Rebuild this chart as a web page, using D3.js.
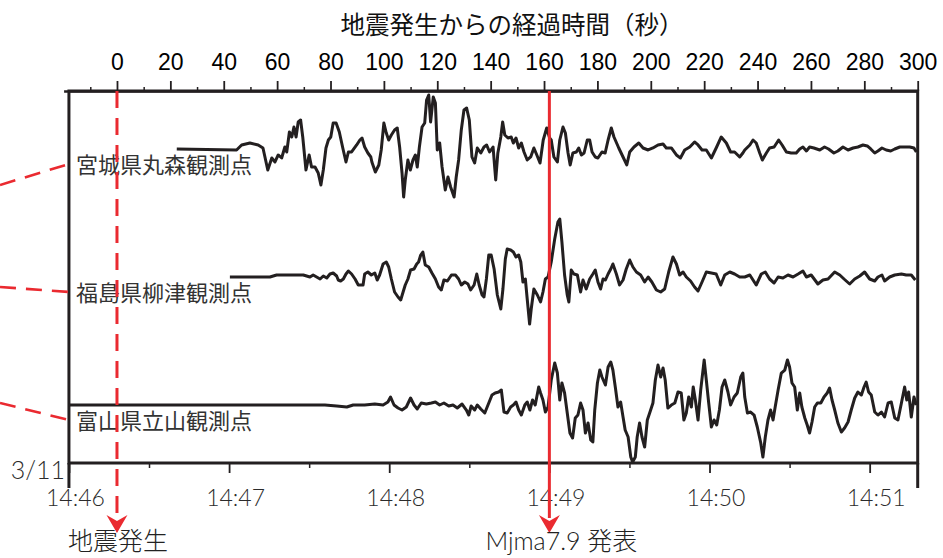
<!DOCTYPE html>
<html>
<head>
<meta charset="utf-8">
<script src="https://cdn.jsdelivr.net/npm/d3@7"></script>
<style>
  body { margin: 0; background: #fff; }
  svg { display: block; }
</style>
</head>
<body>
<div id="chart"></div>
<script>
// seconds after origin time, amplitude (relative)
const miyagi = [[22.4,0],[44.8,-1],[46.7,4],[49.8,6],[52.9,4],[54.7,1],[56.5,-21],[58.0,-9],[59.2,-13],[60.4,-6],[61.7,-9],[62.9,2],[63.6,-3],[64.6,17],[65.5,12],[66.3,22],[67.1,12],[67.9,27],[68.8,29],[69.6,12],[70.8,-21],[72.0,-6],[72.9,-18],[74.2,-18],[75.4,-24],[76.4,-36],[77.3,-21],[78.3,1],[79.2,9],[80.1,12],[81.0,26],[82.1,26],[83.3,17],[84.6,1],[85.8,-13],[86.7,-3],[87.9,-3],[89.8,4],[91.0,9],[91.8,11],[92.8,2],[94.0,-4],[95.1,-8],[95.5,-13],[96.8,-23],[98.1,-16],[99.0,-1],[100.0,26],[100.9,16],[101.8,9],[102.8,14],[104.0,19],[105.0,21],[105.9,2],[106.8,-24],[107.4,-48],[108.0,-31],[109.0,-11],[109.9,-21],[110.9,-11],[111.8,-6],[112.5,-18],[113.3,2],[114.3,22],[115.3,26],[116.0,49],[116.8,54],[117.5,27],[118.5,52],[119.3,46],[120.0,-1],[120.9,6],[121.8,-18],[123.0,-41],[124.0,-28],[125.0,-38],[126.3,-48],[127.1,-28],[128.0,-11],[129.0,19],[130.0,39],[131.0,41],[132.0,29],[133.0,-8],[134.0,-14],[135.0,1],[136.3,-4],[137.5,2],[138.5,4],[139.6,-3],[140.9,2],[141.9,-31],[142.7,-4],[143.8,12],[144.5,27],[145.3,14],[146.5,11],[147.7,12],[148.5,6],[149.5,11],[150.5,1],[151.5,6],[152.5,-3],[153.7,-11],[155.0,-8],[156.2,1],[157.3,-6],[158.5,-14],[159.7,9],[161.0,21],[162.1,11],[162.7,9],[163.7,-8],[165.0,-13],[165.9,9],[167.1,22],[168.0,16],[169.0,-4],[169.8,-16],[170.8,-4],[172.1,-3],[173.0,1],[174.0,-6],[175.0,-4],[176.2,9],[177.1,9],[178.0,-3],[179.2,-8],[180.2,-9],[181.7,-3],[182.9,-4],[184.0,9],[185.2,21],[186.2,12],[188.0,1],[189.6,-8],[191.0,-16],[192.1,-3],[193.7,2],[195.5,6],[197.1,1],[199.0,-1],[200.8,1],[202.7,4],[204.6,5],[205.8,1],[207.7,1],[209.6,-6],[211.1,-9],[212.7,-1],[214.6,2],[216.4,7],[217.7,4],[219.2,-1],[220.8,-1],[222.7,-9],[224.5,1],[226.4,12],[228.3,6],[229.9,-3],[231.4,-3],[233.3,-8],[234.5,-4],[235.2,-1],[237.1,4],[238.3,9],[239.5,6],[240.8,-4],[241.8,-11],[243.3,-4],[244.5,1],[246.2,2],[247.9,9],[249.2,4],[250.8,-3],[252.6,-4],[254.5,-4],[255.8,0],[257.0,2],[258.3,-2],[259.5,2],[261.1,1],[263.3,-1],[265.1,2],[266.6,0],[268.6,-4],[270.1,-2],[272.0,2],[273.9,-1],[275.8,1],[277.6,2],[279.5,4],[281.1,3],[282.4,0],[283.9,-4],[285.1,-2],[286.6,1],[288.2,-1],[289.9,-2],[291.4,0],[293.3,2],[295.1,2],[297.0,2],[298.6,1],[299.5,-3]];

const fukushima = [[42.3,0],[57.3,0],[59.8,2],[67.3,2],[69.8,2],[72.3,0],[73.5,2],[74.8,0],[76.1,-2],[77.3,1],[78.6,-1],[79.8,3],[81.0,4],[82.3,1],[82.9,-3],[83.8,-4],[84.8,-2],[85.8,3],[86.7,6],[87.9,3],[89.2,-2],[90.4,-8],[92.2,-8],[92.8,3],[94.0,5],[95.3,2],[96.6,4],[97.5,-3],[98.4,2],[99.7,13],[100.9,15],[101.8,10],[102.8,-2],[104.0,-15],[105.3,-20],[106.3,-23],[107.2,-15],[108.0,-8],[109.0,-2],[110.0,7],[111.3,8],[112.3,13],[113.0,15],[113.8,22],[114.6,25],[115.5,12],[116.8,10],[118.0,4],[119.3,-2],[120.5,-10],[121.5,-13],[122.5,-3],[123.8,-4],[125.3,2],[126.8,2],[128.0,-2],[129.0,-8],[130.3,-5],[131.5,-7],[132.5,-13],[133.8,-8],[134.8,3],[135.7,-8],[136.8,-18],[137.5,-20],[138.4,-2],[139.3,22],[140.2,22],[141.3,8],[142.5,-18],[143.8,-32],[144.6,-12],[145.5,18],[146.2,28],[147.5,27],[148.5,25],[149.5,20],[150.5,22],[151.3,15],[152.1,-5],[153.0,-2],[153.7,-22],[154.6,-47],[155.2,-32],[156.2,-12],[157.5,-18],[158.7,-25],[159.6,-15],[160.5,-2],[161.5,0],[162.7,15],[164.0,38],[165.2,55],[165.9,58],[166.7,35],[167.7,2],[168.7,-18],[169.3,-25],[170.2,7],[171.2,3],[172.5,2],[173.7,-15],[174.6,-3],[175.8,-12],[177.1,-2],[178.3,3],[179.2,7],[180.2,-5],[181.2,-12],[182.1,-2],[183.0,-3],[184.0,3],[185.0,8],[185.8,13],[187.1,3],[188.3,-8],[189.6,-3],[190.8,8],[192.1,17],[193.3,10],[194.6,5],[196.2,2],[197.7,-5],[199.0,0],[200.4,-5],[202.1,-13],[203.7,-15],[205.2,-12],[206.7,5],[208.3,20],[209.6,13],[210.8,2],[212.1,5],[213.3,0],[214.9,-4],[216.4,-10],[217.7,-14],[219.2,-5],[220.8,5],[222.7,4],[224.5,3],[226.2,-8],[227.7,2],[229.6,5],[231.4,3],[233.3,0],[235.2,0],[237.1,2],[239.5,-8],[241.4,3],[242.9,5],[244.5,-2],[246.2,-6],[247.7,0],[249.5,-1],[251.4,2],[253.3,0],[255.2,3],[257.0,6],[258.3,0],[260.1,2],[262.6,-7],[264.5,-3],[266.4,-2],[268.9,5],[270.8,2],[272.4,-2],[274.5,-7],[276.4,-2],[278.3,1],[280.1,5],[282.0,-2],[283.9,-4],[285.1,0],[286.6,2],[287.6,-4],[289.5,0],[291.4,2],[293.9,3],[295.7,2],[297.6,2],[299.1,-3]];

const toyama = [[-18.0,0],[77.9,0],[82.3,-1],[86.1,-2],[88.5,0],[91.0,0],[92.8,0],[96.6,1],[99.7,0],[101.5,3],[102.5,8],[103.8,0],[105.3,-3],[106.8,-5],[108.4,-2],[110.0,7],[111.3,0],[112.5,-4],[114.0,2],[115.9,1],[117.8,2],[119.3,3],[120.9,0],[122.5,2],[124.3,-1],[125.9,0],[127.5,-3],[129.3,1],[130.9,-5],[131.8,-10],[132.7,-1],[134.0,-5],[135.0,0],[136.3,-4],[137.8,-8],[139.3,2],[140.5,10],[141.7,12],[143.0,13],[144.0,15],[145.0,-7],[146.2,-8],[147.5,-2],[148.5,0],[149.5,3],[150.5,-5],[151.5,-10],[152.8,0],[153.7,3],[154.7,-5],[155.7,5],[156.7,0],[158.0,18],[158.7,12],[159.6,5],[160.5,-7],[161.5,-2],[162.7,25],[164.0,42],[165.0,32],[165.9,5],[166.7,22],[167.7,12],[168.7,-8],[169.7,-28],[170.7,-33],[171.7,-13],[172.7,-10],[173.7,2],[174.6,-5],[175.5,-28],[176.5,-18],[177.5,-35],[178.3,-37],[179.0,-5],[180.0,22],[180.9,35],[181.7,28],[183.0,20],[184.0,38],[185.0,43],[185.8,35],[186.7,18],[187.7,-2],[188.7,3],[189.6,-12],[190.4,-25],[191.5,-32],[192.5,-52],[193.2,-57],[194.2,-52],[194.9,-32],[195.8,-18],[196.7,-32],[197.7,-42],[198.7,-15],[199.7,-7],[200.8,2],[201.7,25],[202.7,40],[203.7,28],[204.6,37],[205.4,25],[206.4,-3],[207.7,0],[209.0,2],[210.2,13],[211.4,12],[212.4,-15],[213.3,-8],[214.2,8],[215.2,-2],[215.9,18],[216.7,5],[217.7,-15],[218.7,15],[220.0,45],[220.8,25],[221.7,2],[222.7,-22],[223.7,-15],[224.7,-20],[225.7,-5],[226.7,18],[227.7,25],[228.9,13],[229.9,0],[231.2,8],[232.4,12],[233.7,28],[234.5,32],[235.2,8],[236.2,-8],[237.4,-7],[238.7,-10],[239.9,-22],[241.2,-38],[242.0,-52],[242.9,-32],[243.9,-15],[244.9,-5],[245.8,-15],[246.6,-2],[247.7,15],[248.9,32],[250.2,35],[251.2,45],[252.0,38],[252.9,22],[253.9,18],[254.9,-5],[255.8,12],[256.6,-2],[257.7,-13],[258.6,-20],[259.5,-28],[260.4,-17],[261.4,-2],[262.4,2],[263.7,2],[264.9,8],[266.1,12],[267.0,17],[267.9,5],[268.9,-5],[270.1,-18],[271.4,-27],[272.6,-23],[273.9,-17],[275.1,-5],[276.4,7],[277.6,13],[278.9,10],[279.9,18],[280.7,23],[281.6,13],[282.6,10],[283.9,-7],[285.1,-10],[286.4,-7],[287.6,-12],[288.9,2],[290.1,3],[291.4,-13],[292.6,-15],[293.9,2],[295.1,18],[295.9,5],[296.6,13],[297.6,-12],[298.6,8],[299.5,0]];

const stations = ["宮城県丸森観測点", "福島県柳津観測点", "富山県立山観測点"];
const traces = [miyagi, fukushima, toyama];
const secTicks = [0, 20, 40, 60, 80, 100, 120, 140, 160, 180, 200, 220, 240, 260, 280, 300];
const events = [
    { t: 0, label: "地震発生", dashed: true },
    { t: 162, label: "Mjma7.9 発表", dashed: false }
];
const origin = new Date(2011, 2, 11, 14, 46, 18);

const width = 943, height = 558;
const red = "#ea2a30", ink = "#231f20";
const plotTop = 91, plotBottom = 463;
const thinFont = "Lato, 'Noto Sans CJK JP', sans-serif";

const svg = d3.select("#chart").append("svg")
    .attr("width", width)
    .attr("height", height);

// seconds scale and clock scale share the same pixels
const x = d3.scaleLinear().domain([-20, 300]).range([63.6, 917.7]);
const xTime = d3.scaleTime()
    .domain([d3.timeSecond.offset(origin, -20), d3.timeSecond.offset(origin, 300)])
    .range(x.range());

const frameLeft = xTime(new Date(2011, 2, 11, 14, 46, 0));
const frameRight = x(300);

const row = d3.scalePoint()
    .domain(stations)
    .range([plotTop, plotBottom])
    .padding(0.453);

const amp = d3.scaleLinear().domain([-60, 60]).range([60, -60]);

// title
svg.append("text")
    .attr("x", x(148))
    .attr("y", 34)
    .attr("text-anchor", "middle")
    .style("font-family", "'Noto Sans CJK JP', sans-serif")
    .style("font-size", "24.5px")
    .attr("fill", "#111")
    .text("地震発生からの経過時間（秒）");

// top axis (seconds)
const topAxis = svg.append("g")
    .attr("transform", `translate(0,${plotTop})`)
    .call(d3.axisTop(x).tickValues(secTicks).tickSize(10).tickSizeOuter(0).tickPadding(11));
topAxis.select(".domain").attr("stroke", ink).attr("stroke-width", 2.6);
topAxis.selectAll(".tick line").attr("stroke", ink).attr("stroke-width", 1.8);
topAxis.selectAll(".tick text")
    .style("font-family", "'Liberation Sans', Arial, sans-serif")
    .style("font-size", "23px")
    .attr("fill", "#000");

const topMinor = svg.append("g")
    .attr("transform", `translate(0,${plotTop})`)
    .call(d3.axisTop(x).tickValues(d3.range(-10, 300, 20)).tickSize(4).tickFormat(""));
topMinor.select(".domain").remove();
topMinor.selectAll(".tick line").attr("stroke", ink).attr("stroke-width", 1.5);

// bottom axis (clock time)
const clockTicks = d3.timeMinute.range(new Date(2011, 2, 11, 14, 46), new Date(2011, 2, 11, 14, 52));
const botAxis = svg.append("g")
    .attr("transform", `translate(0,${plotBottom})`)
    .call(d3.axisBottom(xTime).tickValues(clockTicks).tickSize(10).tickPadding(17)
        .tickFormat(d3.timeFormat("%H:%M")));
botAxis.select(".domain").remove();
botAxis.selectAll(".tick line").attr("stroke", ink).attr("stroke-width", 1.8);
botAxis.selectAll(".tick text")
    .attr("x", 6)
    .style("font-family", thinFont)
    .style("font-size", "23px")
    .style("font-weight", 300)
    .attr("fill", "#2b2b2b");

const halfTicks = clockTicks.map(d => d3.timeSecond.offset(d, 30)).filter(d => xTime(d) < frameRight);
const botMinor = svg.append("g")
    .attr("transform", `translate(0,${plotBottom})`)
    .call(d3.axisBottom(xTime).tickValues(halfTicks).tickSize(5).tickFormat(""));
botMinor.select(".domain").remove();
botMinor.selectAll(".tick line").attr("stroke", ink).attr("stroke-width", 1.5);

svg.append("text")
    .attr("x", 65)
    .attr("y", 479)
    .attr("text-anchor", "end")
    .style("font-family", thinFont)
    .style("font-size", "25px")
    .style("font-weight", 300)
    .attr("fill", "#2b2b2b")
    .text("3/11");

// frame
svg.append("rect")
    .attr("x", frameLeft)
    .attr("y", plotTop)
    .attr("width", frameRight - frameLeft)
    .attr("height", plotBottom - plotTop)
    .attr("fill", "none")
    .attr("stroke", ink)
    .attr("stroke-width", 3);

[frameLeft, frameRight].forEach(px => {
    svg.append("line")
        .attr("x1", px).attr("x2", px)
        .attr("y1", plotBottom).attr("y2", 488)
        .attr("stroke", ink)
        .attr("stroke-width", 3);
});

// station labels and leader lines from the map side
const leaderFrom = [12, -14, -26];
stations.forEach((s, i) => {
    const base = row(s) + 24;
    svg.append("line")
        .attr("x1", 0).attr("y1", base + leaderFrom[i])
        .attr("x2", frameLeft).attr("y2", base - 9)
        .attr("stroke", red)
        .attr("stroke-width", 2.6)
        .attr("stroke-dasharray", "16,10");

    svg.append("text")
        .attr("x", frameLeft + 7)
        .attr("y", base)
        .style("font-family", "'Noto Sans CJK JP', sans-serif")
        .style("font-size", "22px")
        .attr("fill", "#333")
        .text(s);
});

// seismograms
const line = d3.line();
traces.forEach((tr, i) => {
    const y0 = row(stations[i]);
    svg.append("path")
        .datum(tr)
        .attr("fill", "none")
        .attr("stroke", ink)
        .attr("stroke-width", 3)
        .attr("stroke-linejoin", "round")
        .attr("d", line.x(d => x(d[0])).y(d => y0 + amp(d[1])));
});

// event markers
events.forEach(ev => {
    const ex = x(ev.t);
    svg.append("line")
        .attr("x1", ex).attr("x2", ex)
        .attr("y1", plotTop).attr("y2", 518)
        .attr("stroke", red)
        .attr("stroke-width", 3)
        .attr("stroke-dasharray", ev.dashed ? "17,10" : null);

    const tip = 533;
    svg.append("path")
        .attr("d", `M${ex},${tip} L${ex - 10.5},${tip - 18} L${ex},${tip - 12} L${ex + 10.5},${tip - 18} Z`)
        .attr("fill", red);

    svg.append("text")
        .attr("x", ev.dashed ? ex + 1 : ex + 12)
        .attr("y", 550)
        .attr("text-anchor", "middle")
        .style("font-family", ev.dashed ? "'Noto Sans CJK JP', sans-serif" : thinFont)
        .style("font-size", "25px")
        .style("font-weight", 300)
        .attr("fill", "#222")
        .text(ev.label);
});
</script>
</body>
</html>
